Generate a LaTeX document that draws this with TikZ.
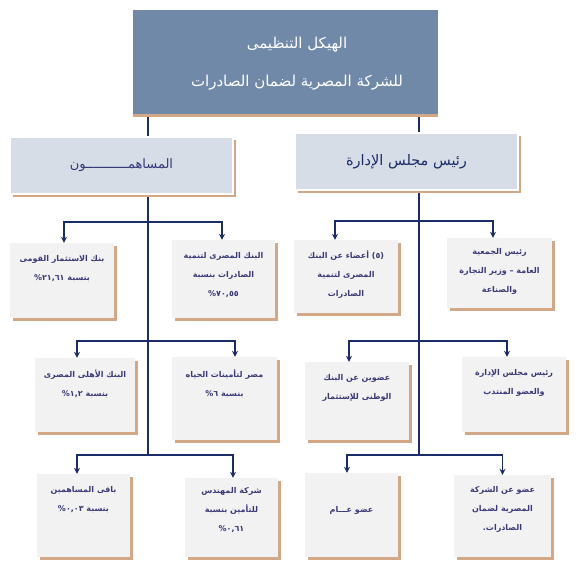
\documentclass[tikz,border=0pt]{standalone}
\usepackage{fontspec}
\usetikzlibrary{shadows,fit,arrows.meta,calc}
\TeXXeTstate=1
\newfontfamily\arabicfont[Script=Arabic]{DejaVu Sans}
\newcommand{\rl}[1]{\beginR #1\endR}
\newcommand{\pct}[1]{\beginL\mbox{\%}\mbox{#1}\endL{}}
\definecolor{topblue}{HTML}{7089A9}
\definecolor{tanshadow}{HTML}{D3A886}
\definecolor{hdrfill}{HTML}{D6DDE6}
\definecolor{leaffill}{HTML}{F2F2F2}
\definecolor{navy}{HTML}{1B2C6B}
\definecolor{leaftxt}{HTML}{3A3A7A}
\definecolor{hdrtxt}{HTML}{34387A}
\pgfdeclarelayer{bg}
\pgfsetlayers{bg,main}
\tikzset{
  topbox/.style={fill=topblue, inner sep=0pt,
    drop shadow={shadow xshift=0pt, shadow yshift=-3pt, fill=tanshadow, opacity=1}},
  titletext/.style={text=white, align=center, font=\arabicfont\fontsize{15}{38}\selectfont},
  hdrbox/.style={fill=hdrfill, draw=white, line width=1.5pt, inner sep=0pt,
    drop shadow={shadow xshift=2.5pt, shadow yshift=-2.5pt, fill=tanshadow, opacity=1},
    text=hdrtxt, font=\arabicfont\fontsize{13}{16}\selectfont},
  leaf/.style={fill=leaffill, inner sep=0pt,
    drop shadow={shadow xshift=2.5pt, shadow yshift=-2.5pt, fill=tanshadow, opacity=1}},
  leaftext/.style={text=leaftxt, align=center, inner sep=0pt,
    font=\arabicfont\bfseries\fontsize{8}{19}\selectfont},
  conn/.style={draw=navy, line width=1.4pt},
  arr/.style={conn, -{Stealth[length=6pt,width=6pt]}},
}
\newcommand{\leafbox}[7]{%
  \node[leaf, fit={(#2,#3) (#4,#5)}] (#1) {};
  \node[leaftext, anchor=north] (#1-t) at ([yshift=-#6]#1.north) {#7};
}
\begin{document}
\begin{tikzpicture}[x=1pt,y=-1pt]
\useasboundingbox (0,0) rectangle (588,575);

% title
\node[topbox, minimum width=305pt, minimum height=104pt] (top) at (285.5,62) {};
\node[titletext] (title) at (297,64)
  {\rl{الهيكل التنظيمى}\\ \rl{للشركة المصرية لضمان الصادرات}};

% headers
\node[hdrbox, minimum width=223pt, minimum height=57pt] (hL) at (121.5,165.5) {\rl{المساهمـــــــــــون}};
\node[hdrbox, minimum width=223pt, minimum height=57pt, font=\arabicfont\fontsize{14.5}{16}\selectfont, text=navy] (hR) at (406.5,161.5) {\rl{رئيس مجلس الإدارة}};

% left side leaves
\leafbox{L1a}{10}{243}{114}{318}{12pt}{\rl{بنك الاستثمار القومى}\\ \rl{بنسبة \pct{٢١,٦١}}}
\leafbox{L1b}{172}{240}{275}{318}{12pt}{\rl{البنك المصرى لتنمية}\\ \rl{الصادرات بنسبة}\\ \pct{٧٠,٥٥}}
\leafbox{L2a}{35}{358}{135}{432}{12pt}{\rl{البنك الأهلى المصرى}\\ \rl{بنسبة \pct{١,٢}}}
\leafbox{L2b}{172}{357}{277}{440}{13pt}{\rl{مصر لتأمينات الحياه}\\ \rl{بنسبة \pct{٦}}}
\leafbox{L3a}{37}{474}{130}{557}{12pt}{\rl{باقى المساهمين}\\ \rl{بنسبة \pct{٠,٠٣}}}
\leafbox{L3b}{185}{478}{278}{557}{9pt}{\rl{شركة المهندس}\\ \rl{للتأمين بنسبة}\\ \pct{٠,٦١}}

% right side leaves
\leafbox{R1a}{294}{240}{398}{313}{11pt}{\rl{(٥) أعضاء عن البنك}\\ \rl{المصرى لتنمية}\\ \rl{الصادرات}}
\leafbox{R1b}{447}{238}{552}{308}{10pt}{\rl{رئيس الجمعية}\\ \rl{العامة – وزير التجارة}\\ \rl{والصناعة}}
\leafbox{R2a}{305}{362}{409}{440}{12pt}{\rl{عضوين عن البنك}\\ \rl{الوطنى للإستثمار}}
\leafbox{R2b}{462}{357}{566}{432}{12pt}{\rl{رئيس مجلس الإدارة}\\ \rl{والعضو المنتدب}}
\leafbox{R3a}{305}{473}{398}{557}{33pt}{\rl{عضو عـــام}}
\leafbox{R3b}{454}{475}{551}{557}{11pt}{\rl{عضو عن الشركة}\\ \rl{المصرية لضمان}\\ \rl{الصادرات.}}

% junctions
\coordinate (jl1) at (148,222);
\coordinate (jl2) at (148,341);
\coordinate (jl3) at (148,455);
\coordinate (jr1) at (419,221);
\coordinate (jr2) at (419,341);
\coordinate (jr3) at (419,455);

\begin{pgfonlayer}{bg}
  \draw[conn] (top.south -| jl3) -- (jl3);
  \draw[conn] (top.south -| jr3) -- (jr3);
\end{pgfonlayer}

\draw[arr] (jl1) -| ([xshift=2pt]L1a.north);
\draw[arr] (jl1) -| ([xshift=-1.5pt]L1b.north);
\draw[arr] (jl2) -| ([xshift=-8pt]L2a.north);
\draw[arr] (jl2) -| ([xshift=10.5pt]L2b.north);
\draw[arr] (jl3) -| ([xshift=-6.5pt]L3a.north);
\draw[arr] (jl3) -| ([xshift=1.5pt]L3b.north);

\draw[arr] (jr1) -| ([xshift=-11pt]R1a.north);
\draw[arr] (jr1) -| ([xshift=-6.5pt]R1b.north);
\draw[arr] (jr2) -| ([xshift=-8pt]R2a.north);
\draw[arr] (jr2) -| ([xshift=-7pt]R2b.north);
\draw[arr] (jr3) -| ([xshift=-4.5pt]R3a.north);
\draw[arr] (jr3) -| (R3b.north);
\end{tikzpicture}
\end{document}
